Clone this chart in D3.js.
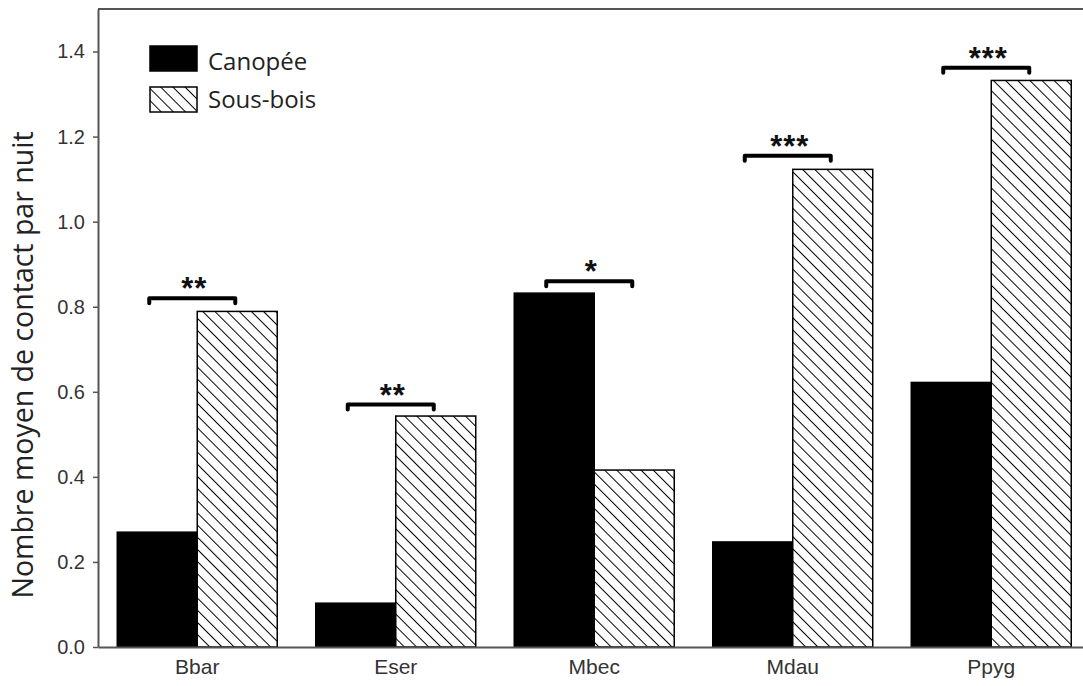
<!DOCTYPE html>
<html><head><meta charset="utf-8">
<script src="https://cdn.jsdelivr.net/npm/d3@7"></script>
<style>body{margin:0;background:#fff;} svg{display:block;}</style>
</head><body>
<svg id="chart" width="1083" height="686"></svg>
<script>
const categories = ["Bbar","Eser","Mbec","Mdau","Ppyg"];
const seriesNames = ["Canopée","Sous-bois"];
const canopee = [0.27, 0.103, 0.832, 0.247, 0.622];
const sousBois = [0.789, 0.543, 0.416, 1.123, 1.332];
const bracketLevel = [0.82, 0.57, 0.86, 1.155, 1.362];
const stars = ["**","**","*","***","***"];
const yTicks = [0.0,0.2,0.4,0.6,0.8,1.0,1.2,1.4];

(function(){
const svg = d3.select("#chart");
const mLeft = 98, mRight = 1090.5, mTop = 9, mBottom = 647;

const defs = svg.append("defs");
const p2 = defs.append("pattern").attr("id","hatch").attr("patternUnits","userSpaceOnUse")
  .attr("width",8.6).attr("height",8.6).attr("patternTransform","rotate(-45)");
p2.append("rect").attr("width",8.6).attr("height",8.6).attr("fill","#fff");
p2.append("line").attr("x1",0).attr("y1",0).attr("x2",0).attr("y2",8.6)
  .attr("stroke","#000").attr("stroke-width",2);

const x0 = d3.scaleBand().domain(categories).range([mLeft,mRight]).paddingInner(0.194).paddingOuter(0.097);
const x1 = d3.scaleBand().domain(seriesNames).range([0,x0.bandwidth()]);
const y = d3.scaleLinear().domain([0,1.5]).range([mBottom,mTop]);

// top border
svg.append("line").attr("x1",mLeft).attr("x2",1083).attr("y1",mTop).attr("y2",mTop)
  .attr("stroke","#555").attr("stroke-width",2);

const data = categories.map((c,i)=>({cat:c, vals:[canopee[i], sousBois[i]], br:bracketLevel[i], st:stars[i]}));

const g = svg.append("g");
data.forEach(d=>{
  d.vals.forEach((v,j)=>{
    g.append("rect")
      .attr("x", x0(d.cat)+x1(seriesNames[j]))
      .attr("y", y(v))
      .attr("width", x1.bandwidth())
      .attr("height", y(0)-y(v))
      .attr("fill", j===0 ? "#000" : "url(#hatch)")
      .attr("stroke","#000").attr("stroke-width",1.5);
  });
  const cx = x0(d.cat)+x0.bandwidth()/2;
  const by = y(d.br);
  const xa = cx-48, xb = cx+38;
  g.append("path")
    .attr("d",`M${xa},${by+5}V${by}H${xb}V${by+5}`)
    .attr("fill","none").attr("stroke","#000").attr("stroke-width",4)
    .attr("stroke-linecap","round").attr("stroke-linejoin","round");
  g.append("text").attr("x",cx-3).attr("y",by+1)
    .attr("text-anchor","middle").attr("font-family","Liberation Sans, Arial, sans-serif")
    .attr("font-weight","bold").attr("font-size",31).attr("fill","#111")
    .attr("letter-spacing",1)
    .text(d.st);
});

// axes
const yAxis = d3.axisLeft(y).tickValues(yTicks).tickFormat(d3.format(".1f")).tickSize(5).tickSizeOuter(0);
const ya = svg.append("g").attr("transform",`translate(${mLeft},0)`).call(yAxis);
ya.select(".domain").attr("stroke","#555").attr("stroke-width",2);
ya.selectAll(".tick line").attr("stroke","#555").attr("stroke-width",1.5);
ya.selectAll(".tick text").attr("font-family","Liberation Sans, Arial, sans-serif")
  .attr("font-size",20).attr("fill","#333").attr("x",-13);

const xAxis = d3.axisBottom(x0).tickSize(0).tickSizeOuter(0);
const xa = svg.append("g").attr("transform",`translate(0,${mBottom})`).call(xAxis);
xa.select(".domain").attr("stroke","#555").attr("stroke-width",2);
xa.selectAll(".tick text").attr("font-family","Liberation Sans, Arial, sans-serif")
  .attr("font-size",21).attr("fill","#333").attr("y",12).attr("dy","0.71em");

// y label
svg.append("text").attr("transform","translate(33,365) rotate(-90)")
  .attr("text-anchor","middle").attr("font-family","Open Sans, sans-serif")
  .attr("font-size",28.5).attr("fill","#222")
  .text("Nombre moyen de contact par nuit");

// legend
const legY = [46, 87];
const legTextY = [70, 108];
seriesNames.forEach((s,j)=>{
  svg.append("rect").attr("x",150).attr("y",legY[j]).attr("width",47).attr("height",25)
    .attr("fill", j===0?"#000":"url(#hatch)").attr("stroke","#000").attr("stroke-width",1.5);
  svg.append("text").attr("x",208).attr("y",legTextY[j])
    .attr("font-family","Open Sans, sans-serif").attr("font-size",24).attr("fill","#222").text(s);
});
})();
</script>
</body></html>
